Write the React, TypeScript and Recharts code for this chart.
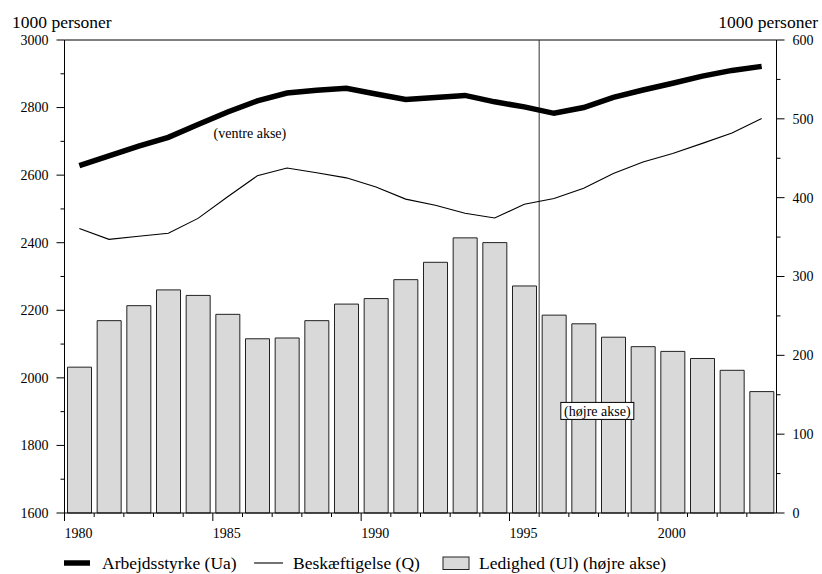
import { ComposedChart, Bar, Line, XAxis, YAxis, ReferenceLine, ReferenceDot } from "recharts"

const years = [1980, 1981, 1982, 1983, 1984, 1985, 1986, 1987, 1988, 1989, 1990, 1991, 1992, 1993, 1994, 1995, 1996, 1997, 1998, 1999, 2000, 2001, 2002, 2003]
const arbejdsstyrke = [2628, 2657, 2686, 2712, 2750, 2787, 2820, 2843, 2851, 2857, 2840, 2824, 2830, 2836, 2817, 2802, 2783, 2800, 2830, 2852, 2872, 2893, 2910, 2922]
const beskaeftigelse = [2442, 2410, 2419, 2428, 2472, 2536, 2598, 2621, 2607, 2592, 2565, 2529, 2511, 2487, 2473, 2514, 2531, 2561, 2605, 2639, 2664, 2694, 2725, 2768]
const ledighed = [185, 244, 263, 283, 276, 252, 221, 222, 244, 265, 272, 296, 318, 349, 343, 288, 251, 240, 223, 211, 205, 196, 181, 154]

const xTicks = years
const leftTicks = [1600, 1700, 1800, 1900, 2000, 2100, 2200, 2300, 2400, 2500, 2600, 2700, 2800, 2900, 3000]
const rightTicks = [0, 50, 100, 150, 200, 250, 300, 350, 400, 450, 500, 550, 600]

const FONT = "'Liberation Serif', 'DejaVu Serif', serif"
const BAR_FILL = "#d9d9d9"

// points sit in the middle of each year
const data = years.map((y, i) => ({
  x: y + 0.5,
  ua: arbejdsstyrke[i],
  q: beskaeftigelse[i],
  ul: ledighed[i],
}))

const LeftTick = ({ x, y, payload }: any) => {
  const v = payload.value
  const major = v % 200 === 0
  return (
    <g>
      <line x1={x} x2={x - (major ? 8 : 4)} y1={y} y2={y} stroke="#000" />
      {major && (
        <text x={x - 16} y={y} dy="0.35em" textAnchor="end" fontSize={14} fontFamily={FONT} fill="#000">
          {v}
        </text>
      )}
    </g>
  )
}

const RightTick = ({ x, y, payload }: any) => {
  const v = payload.value
  const major = v % 100 === 0
  return (
    <g>
      <line x1={x} x2={x + (major ? 8 : 4)} y1={y} y2={y} stroke="#000" />
      {major && (
        <text x={x + 16} y={y} dy="0.35em" textAnchor="start" fontSize={14} fontFamily={FONT} fill="#000">
          {v}
        </text>
      )}
    </g>
  )
}

const BottomTick = ({ x, y, payload }: any) => {
  const v = payload.value
  const major = v % 5 === 0
  return (
    <g>
      <line x1={x} x2={x} y1={y} y2={y + (major ? 8 : 4)} stroke="#000" />
      {major && (
        <text x={x + 14} y={y + 25} textAnchor="middle" fontSize={14} fontFamily={FONT} fill="#000">
          {v}
        </text>
      )}
    </g>
  )
}

const HojreBox = ({ cx, cy }: any) => (
  <g>
    <rect x={cx - 36.5} y={cy - 8.5} width={73} height={17} fill="#fff" stroke="#000" />
    <text x={cx} y={cy} dy="0.35em" textAnchor="middle" fontSize={14} fontFamily={FONT} fill="#000">
      (højre akse)
    </text>
  </g>
)

export default function App() {
  return (
    <div style={{ position: "absolute", left: 0, top: 0, width: 822, height: 574, fontFamily: FONT, background: "#fff" }}>
      <ComposedChart width={822} height={574} data={data} margin={{ top: 40, right: 0, bottom: 31, left: 4 }}>
        <XAxis
          dataKey="x"
          type="number"
          domain={[1980, 2004]}
          ticks={xTicks}
          interval={0}
          height={30}
          tickSize={0}
          tickMargin={0}
          tickLine={false}
          axisLine={{ stroke: "#000" }}
          tick={<BottomTick />}
        />
        <YAxis
          yAxisId="left"
          orientation="left"
          domain={[1600, 3000]}
          ticks={leftTicks}
          interval={0}
          width={60.5}
          tickSize={0}
          tickMargin={0}
          tickLine={false}
          axisLine={{ stroke: "#000" }}
          tick={<LeftTick />}
        />
        <YAxis
          yAxisId="right"
          orientation="right"
          domain={[0, 600]}
          ticks={rightTicks}
          interval={0}
          width={45.5}
          tickSize={0}
          tickMargin={0}
          tickLine={false}
          axisLine={{ stroke: "#000" }}
          tick={<RightTick />}
        />
        <ReferenceLine yAxisId="left" y={3000} stroke="#000" />
        <ReferenceLine yAxisId="left" x={1996} stroke="#333" />
        <Bar
          yAxisId="right"
          dataKey="ul"
          barSize={24}
          fill={BAR_FILL}
          stroke="#222"
          strokeWidth={1}
          isAnimationActive={false}
        />
        <Line
          yAxisId="left"
          dataKey="q"
          type="linear"
          stroke="#000"
          strokeWidth={1.1}
          dot={false}
          isAnimationActive={false}
        />
        <Line
          yAxisId="left"
          dataKey="ua"
          type="linear"
          stroke="#000"
          strokeWidth={5.5}
          dot={false}
          isAnimationActive={false}
        />
        <ReferenceDot
          yAxisId="left"
          x={1986.25}
          y={2724}
          r={0}
          shape={({ cx, cy }: any) => (
            <text x={cx} y={cy} dy="0.35em" textAnchor="middle" fontSize={14} fontFamily={FONT} fill="#000">
              (ventre akse)
            </text>
          )}
        />
        <ReferenceDot yAxisId="right" x={1997.96} y={129.5} r={0} shape={<HojreBox />} />
      </ComposedChart>

      <svg width={822} height={574} style={{ position: "absolute", left: 0, top: 0, pointerEvents: "none" }}>
        <text x={12} y={28} fontSize={17.5} fontFamily={FONT} fill="#000">1000 personer</text>
        <text x={818} y={28} fontSize={17.5} fontFamily={FONT} fill="#000" textAnchor="end">1000 personer</text>

        <line x1={64} x2={90} y1={563} y2={563} stroke="#000" strokeWidth={5.5} />
        <text x={102} y={569} fontSize={17.5} fontFamily={FONT} fill="#000">Arbejdsstyrke (Ua)</text>
        <line x1={254} x2={283} y1={563} y2={563} stroke="#000" strokeWidth={1.1} />
        <text x={293} y={569} fontSize={17.5} fontFamily={FONT} fill="#000">Beskæftigelse (Q)</text>
        <rect x={443} y={557} width={26} height={12.5} fill={BAR_FILL} stroke="#222" />
        <text x={479} y={569} fontSize={17.5} fontFamily={FONT} fill="#000">Ledighed (Ul) (højre akse)</text>
      </svg>
    </div>
  )
}
